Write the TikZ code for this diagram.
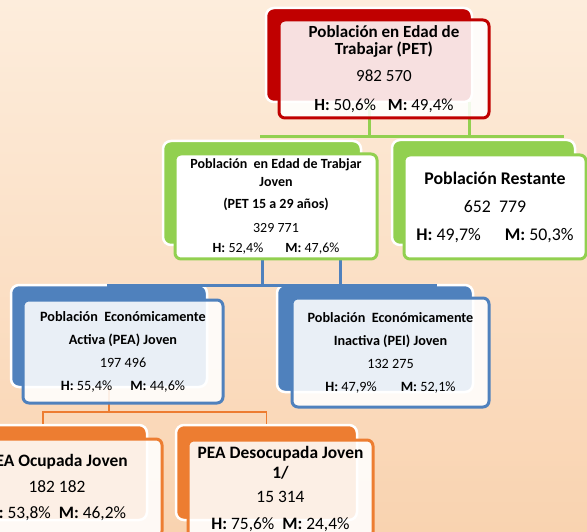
\documentclass[tikz,border=0pt]{standalone}
\usepackage{fontspec}
\setmainfont{Carlito}
\usepackage{xcolor}
\usepackage{tikz}

\definecolor{petred}{HTML}{C00000}
\definecolor{jovgreen}{HTML}{92D050}
\definecolor{peablue}{HTML}{4F81BD}
\definecolor{ocuorange}{HTML}{ED7D31}
\definecolor{bgtop}{HTML}{FDEDDC}
\definecolor{bgbot}{HTML}{F9D3B0}

\begin{document}
\begin{tikzpicture}[x=1pt,y=-1pt,
            back/.style = {rectangle,
                        rounded corners=8pt,
                        draw=white,
                        line width=2.5pt,
                        inner sep=0pt},
            front/.style = {rectangle,
                        rounded corners=6pt,
                        line width=3pt,
                        fill=white,
                        fill opacity=0.88,
                        text opacity=1,
                        inner sep=0pt,
                        align=center}]
            % background
            \shade[top color=bgtop, bottom color=bgbot] (0,0) rectangle (587,532);
            \useasboundingbox (0,0) rectangle (587,532);
            \clip (0,0) rectangle (587,532);
            % Back boxes
            \node[back,fill=petred,minimum width=206pt,minimum height=94pt] (petB) at (369,55) {};
            \node[back,fill=jovgreen,minimum width=198pt,minimum height=104pt] (jovB) at (262,193) {};
            \node[back,fill=jovgreen,minimum width=183pt,minimum height=105pt] (resB) at (483.5,192.5) {};
            \node[back,fill=peablue,minimum width=196pt,minimum height=102pt] (peaB) at (109,336) {};
            \node[back,fill=peablue,minimum width=196pt,minimum height=107pt] (peiB) at (375,338.5) {};
            \node[back,fill=ocuorange,minimum width=208pt,minimum height=95pt] (ocuB) at (43,472.5) {};
            \node[back,fill=ocuorange,minimum width=181pt,minimum height=95pt] (desB) at (266.5,472.5) {};
            % Green lines
            \coordinate (gL) at (260,137);
            \coordinate (gR) at (564,137);
            \coordinate (gT) at (469,102);
            \draw[jovgreen,line width=3pt] (gL) -- (gR);
            \draw[jovgreen,line width=3pt] (petB.south) -- (petB.south |- gL);
            \draw[jovgreen,line width=3pt] (gT) -- (gT |- gL);
            % Blue lines
            \coordinate (bL) at (107,285);
            \coordinate (bR) at (437,285);
            \coordinate (bT) at (340,245);
            \draw[peablue,line width=3pt] (bL) -- (bR);
            \draw[peablue,line width=3pt] (jovB.south) -- (jovB.south |- bL);
            \draw[peablue,line width=3pt] (bT) -- (bT |- bL);
            % Orange lines
            \coordinate (oY) at (0,412);
            \draw[ocuorange,line width=1.5pt] (peaB.south) -- (peaB.south |- oY)
                -| (desB.north);
            \draw[ocuorange,line width=1.5pt] (peaB.south |- oY) -| (ocuB.north);
            % PET
            \node[front,draw=petred,minimum width=210pt,minimum height=98pt,
                font=\fontsize{17}{17}\selectfont] (pet) at (384,69)
                {\textbf{Población en Edad de}\\\textbf{Trabajar (PET)}\\[10pt]982 570\\[12pt]%
                \textbf{H:} 50,6\%\hspace{12pt}\textbf{M:} 49,4\%};
            % PET joven
            \node[front,draw=jovgreen,fill opacity=1,minimum width=202pt,minimum height=105pt,
                font=\fontsize{14}{18}\selectfont] (jov) at (276,206.5)
                {\textbf{Población\ \ en Edad de Trabjar}\\\textbf{Joven}\\[4pt]\textbf{(PET 15 a 29 años)}\\[6pt]%
                329 771\\[2pt]\textbf{H:} 52,4\%\hspace{22pt}\textbf{M:} 47,6\%};
            % Restante
            \node[front,draw=jovgreen,fill opacity=1,minimum width=182pt,minimum height=104pt,
                font=\fontsize{17.8}{28}\selectfont] (res) at (495,207)
                {\textbf{Población Restante}\\652\ \ 779\\\textbf{H:} 49,7\%\hspace{24pt}\textbf{M:} 50,3\%};
            % PEA
            \node[front,draw=peablue,minimum width=200pt,minimum height=103pt,
                font=\fontsize{14.2}{23}\selectfont] (pea) at (123,351.5)
                {\textbf{Población\ \ Económicamente}\\\textbf{Activa (PEA) Joven}\\197 496\\%
                \textbf{H:} 55,4\%\hspace{18pt}\textbf{M:} 44,6\%};
            % PEI
            \node[front,draw=peablue,minimum width=197pt,minimum height=109pt,
                font=\fontsize{14.2}{23}\selectfont] (pei) at (390.5,352.5)
                {\textbf{Población\ \ Económicamente}\\\textbf{Inactiva (PEI) Joven}\\132 275\\%
                \textbf{H:} 47,9\%\hspace{24pt}\textbf{M:} 52,1\%};
            % PEA ocupada
            \node[front,draw=ocuorange,minimum width=210pt,minimum height=98pt,
                font=\fontsize{17.4}{26}\selectfont] (ocu) at (57,488)
                {\textbf{PEA Ocupada Joven}\\182 182\\\textbf{H:} 53,8\%\hspace{8pt}\textbf{M:} 46,2\%};
            % PEA desocupada
            \node[front,draw=ocuorange,minimum width=185pt,minimum height=98pt,
                font=\fontsize{17.4}{20}\selectfont] (des) at (280.5,489)
                {\textbf{PEA Desocupada Joven}\\\textbf{1/}\\[4pt]15 314\\[7pt]%
                \textbf{H:} 75,6\%\hspace{8pt}\textbf{M:} 24,4\%};
        \end{tikzpicture}
\end{document}
